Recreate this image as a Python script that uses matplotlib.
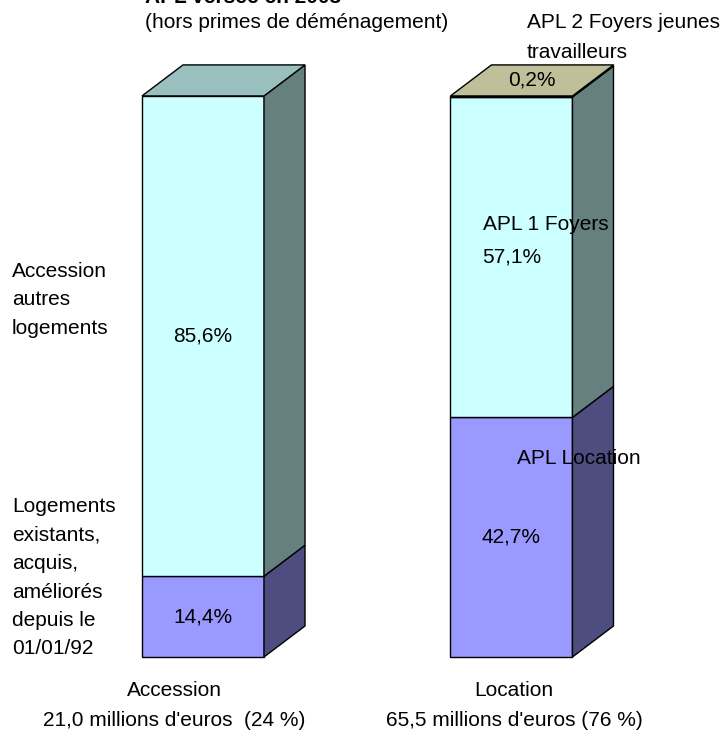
import matplotlib.pyplot as plt
from matplotlib.patches import Rectangle, Polygon

plt.rcParams['font.family'] = ['Liberation Sans', 'DejaVu Sans']

# data
categories = ['Accession', 'Location']
amount_labels = ["21,0 millions d'euros  (24 %)", "65,5 millions d'euros (76 %)"]
accession_shares = [14.4, 85.6]
location_shares = [42.7, 57.1, 0.2]
accession_names = [['Logements', 'existants,', 'acquis,', 'améliorés', 'depuis le', '01/01/92'],
                   ['Accession', 'autres', 'logements']]

# colours: front, side, top
accession_colors = [('#9999FF', '#4D4D80', '#7373BF'),
                    ('#CCFFFF', '#668080', '#99BFBF')]
location_colors = [('#9999FF', '#4D4D80', '#7373BF'),
                   ('#CCFFFF', '#668080', '#99BFBF'),
                   ('#FFFFCC', '#80806A', '#BFBF9A')]

W, H = 724, 731
fig = plt.figure(figsize=(W / 100, H / 100), dpi=100)
ax = fig.add_axes([0, 0, 1, 1])
ax.set_xlim(-0.658, 1.689)
ax.set_ylim(-13.19, 117.1)
ax.axis('off')

width = 0.3955
dx, dy = 0.133, 5.53
fs = 15
line_step = 28.5  # pixels between lines of wrapped labels


def px(x, y):
    return x / W, 1 - y / H


def pct(v):
    return f'{v:.1f}%'.replace('.', ',')


def draw_bar(xc, shares, colors):
    x0, x1 = xc - width / 2, xc + width / 2
    bottom = 0
    for v, (front, side, top) in zip(shares, colors):
        t = bottom + v
        ax.add_patch(Rectangle((x0, bottom), width, v, facecolor=front,
                               edgecolor='black', lw=1.0))
        ax.add_patch(Polygon([(x1, bottom), (x1 + dx, bottom + dy),
                              (x1 + dx, t + dy), (x1, t)],
                             facecolor=side, edgecolor='black', lw=1.0))
        bottom = t
    front, side, top = colors[-1]
    ax.add_patch(Polygon([(x0, bottom), (x0 + dx, bottom + dy),
                          (x1 + dx, bottom + dy), (x1, bottom)],
                         facecolor=top, edgecolor='black', lw=1.0))
    return bottom


def lines(x, y0, rows):
    for i, row in enumerate(rows):
        fig.text(*px(x, y0 + i * line_step), row, ha='left', va='baseline', fontsize=fs)


# Accession bar
draw_bar(0, accession_shares, accession_colors)
ax.text(0, accession_shares[0] / 2, pct(accession_shares[0]), ha='center', va='center', fontsize=fs)
ax.text(0, accession_shares[0] + accession_shares[1] / 2, pct(accession_shares[1]),
        ha='center', va='center', fontsize=fs)

# Location bar
top2 = draw_bar(1, location_shares, location_colors)
ax.text(1, location_shares[0] / 2, pct(location_shares[0]), ha='center', va='center', fontsize=fs)
ax.text(1, location_shares[0] + location_shares[1] / 2, pct(location_shares[1]),
        ha='center', va='center', fontsize=fs)
ax.text(1 + dx / 2, top2 + dy / 2, pct(location_shares[2]), ha='center', va='center', fontsize=fs)

# series labels
lines(12, 277, accession_names[1])
lines(12, 512, accession_names[0])
fig.text(*px(483, 224), 'APL 1 Foyers', ha='left', va='center', fontsize=fs)
fig.text(*px(517, 459), 'APL Location', ha='left', va='center', fontsize=fs)
fig.text(*px(527, 23), 'APL 2 Foyers jeunes', ha='left', va='center', fontsize=fs)
fig.text(*px(527, 52), 'travailleurs', ha='left', va='center', fontsize=fs)

# title (cut at the top of the picture) and subtitle
fig.text(*px(145, 3), 'APL versée en 2003', ha='left', va='baseline',
         fontsize=fs, fontweight='bold')
fig.text(*px(145, 22), '(hors primes de déménagement)', ha='left', va='center', fontsize=fs)

# category labels
fig.text(*px(174, 691), categories[0], ha='center', va='center', fontsize=fs)
fig.text(*px(174, 720), amount_labels[0], ha='center', va='center', fontsize=fs)
fig.text(*px(514, 691), categories[1], ha='center', va='center', fontsize=fs)
fig.text(*px(514, 720), amount_labels[1], ha='center', va='center', fontsize=fs)

fig.savefig('out.png', dpi=100)
